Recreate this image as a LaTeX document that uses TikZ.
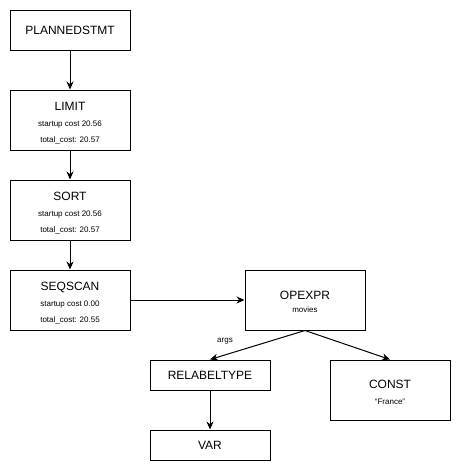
\documentclass[tikz,border=0pt]{standalone}
\usepackage{fontspec}
\setmainfont{Liberation Sans}
\usetikzlibrary{arrows.meta}

\tikzset{
  planbox/.style={draw, line width=1pt, minimum width=120pt, align=center,
    inner sep=0pt, font=\fontsize{8}{16}\selectfont},
  planarrow/.style={line width=1pt, -{Stealth[length=8pt,width=7pt]}},
}
\newcommand{\nodetitle}[1]{{\fontsize{12}{16}\selectfont #1}}
\newcommand{\tallstrut}{\rule{0pt}{15pt}}

\begin{document}
\begin{tikzpicture}[x=1pt,y=-1pt]
        \useasboundingbox (0,0) rectangle (461,471);

        % left column
        \node[planbox, minimum height=40pt] (planned) at (70,30) {\nodetitle{PLANNEDSTMT}};
        \node[planbox, minimum height=60pt] (limit) at (70,120) {\tallstrut\nodetitle{LIMIT}\\startup cost 20.56\\total\_cost: 20.57};
        \node[planbox, minimum height=60pt] (sort) at (70,210) {\tallstrut\nodetitle{SORT}\\startup cost 20.56\\total\_cost: 20.57};
        \node[planbox, minimum height=60pt] (seqscan) at (70,300) {\tallstrut\nodetitle{SEQSCAN}\\startup cost 0.00\\total\_cost: 20.55};

        % expression tree
        \node[planbox, minimum height=60pt] (opexpr) at (305,300) {\rule{0pt}{13pt}\nodetitle{OPEXPR}\\[-3pt]movies};
        \node[planbox, minimum height=30pt] (relabel) at (210,375) {\nodetitle{RELABELTYPE}};
        \node[planbox, minimum height=60pt] (const) at (390,390) {\rule{0pt}{13pt}\nodetitle{CONST}\\``France''};
        \node[planbox, minimum height=30pt] (var) at (210,445) {\nodetitle{VAR}};

        \draw[planarrow] (planned) -- (limit);
        \draw[planarrow] (limit) -- (sort);
        \draw[planarrow] (sort) -- (seqscan);
        \draw[planarrow] (seqscan) -- (opexpr);
        \draw[planarrow] (opexpr.south) -- (relabel.north);
        \draw[planarrow] (opexpr.south) -- (const.north);
        \draw[planarrow] (relabel) -- (var);

        \node[font=\fontsize{8}{10}\selectfont] (argslabel) at (225,341) {args};
    \end{tikzpicture}
\end{document}
